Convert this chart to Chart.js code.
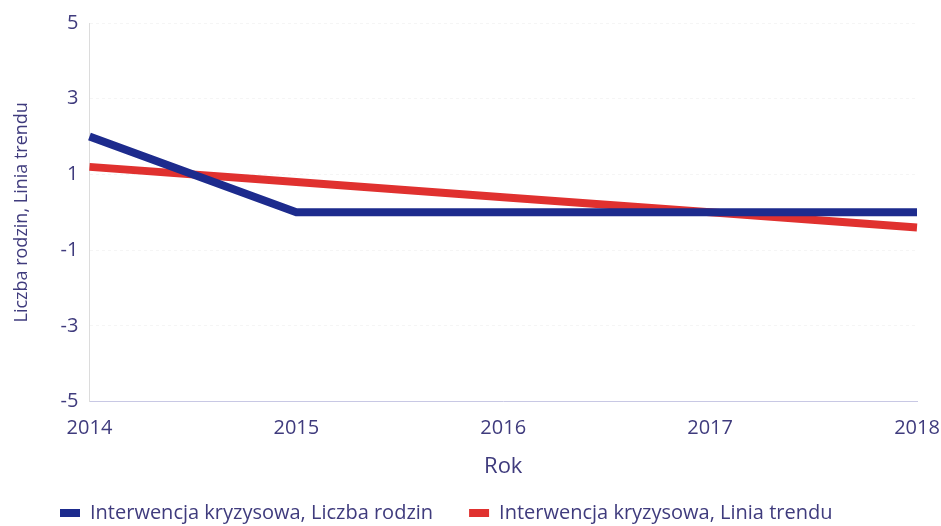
<!DOCTYPE html>
<html lang="pl">
<head>
<meta charset="UTF-8">
<title>Interwencja kryzysowa</title>
<script src="https://cdn.jsdelivr.net/npm/chart.js"></script>
<style>
  html, body { margin: 0; padding: 0; background: #fff; }
  #wrap { width: 941px; height: 526px; }
</style>
</head>
<body>
<div id="wrap"><canvas id="chart"></canvas></div>
<script>
// dane
const years = ["2014", "2015", "2016", "2017", "2018"];
const liczbaRodzin = [2, 0, 0, 0, 0];
const liniaTrendu = [1.2, 0.8, 0.4, 0, -0.4];
const yTicks = [-5, -3, -1, 1, 3, 5];

const textColor = "#3f3b7d";
const font = "'Open Sans', sans-serif";

// przesuniecie legendy (start od lewej jak w oryginale)
const legendShift = {
  id: "legendShift",
  afterLayout(chart) {
    chart.legend.left = 24;
    chart.legend.top = 467;
  }
};

new Chart(document.getElementById("chart"), {
  type: "line",
  data: {
    labels: years,
    datasets: [
      {
        label: "Interwencja kryzysowa, Liczba rodzin",
        data: liczbaRodzin,
        borderColor: "#1d2b8d",
        backgroundColor: "#1d2b8d",
        borderWidth: 8,
        pointRadius: 0,
        tension: 0,
        borderCapStyle: "butt"
      },
      {
        label: "Interwencja kryzysowa, Linia trendu",
        data: liniaTrendu,
        borderColor: "#e0312f",
        backgroundColor: "#e0312f",
        borderWidth: 8,
        pointRadius: 0,
        tension: 0,
        borderCapStyle: "butt"
      }
    ]
  },
  options: {
    responsive: true,
    maintainAspectRatio: false,
    animation: false,
    layout: { padding: { left: 11, right: 0, top: 13, bottom: 0 } },
    plugins: {
      tooltip: { enabled: false },
      legend: {
        position: "bottom",
        align: "start",
        maxHeight: 46,
        labels: {
          color: textColor,
          font: { family: font, size: 20 },
          boxWidth: 20,
          boxHeight: 8,
          padding: 36,
          generateLabels: (chart) =>
            Chart.defaults.plugins.legend.labels.generateLabels(chart)
              .map(item => ({ ...item, lineWidth: 0 }))
        }
      }
    },
    scales: {
      x: {
        offset: false,
        afterFit: (scale) => { scale.paddingRight = 24; },
        grid: { display: false, drawTicks: false },
        border: { display: true, color: "#c8c8e4", width: 1 },
        ticks: { color: textColor, font: { family: font, size: 20 }, padding: 15, maxRotation: 0 },
        title: {
          display: true,
          text: "Rok",
          color: textColor,
          font: { family: font, size: 22 },
          padding: { top: -2, bottom: 0 }
        }
      },
      y: {
        min: -5,
        max: 5,
        afterBuildTicks: (axis) => { axis.ticks = yTicks.map(v => ({ value: v })); },
        grid: { color: "#f5f5f5", lineWidth: 1, drawTicks: false },
        border: { display: true, color: "#dcdcdc", width: 1, dash: [3, 3] },
        ticks: { color: textColor, font: { family: font, size: 20 }, padding: 11 },
        title: {
          display: true,
          text: "Liczba rodzin, Linia trendu",
          color: textColor,
          font: { family: font, size: 18 },
          padding: { top: 0, bottom: 17 }
        }
      }
    }
  },
  plugins: [legendShift]
});
</script>
</body>
</html>
